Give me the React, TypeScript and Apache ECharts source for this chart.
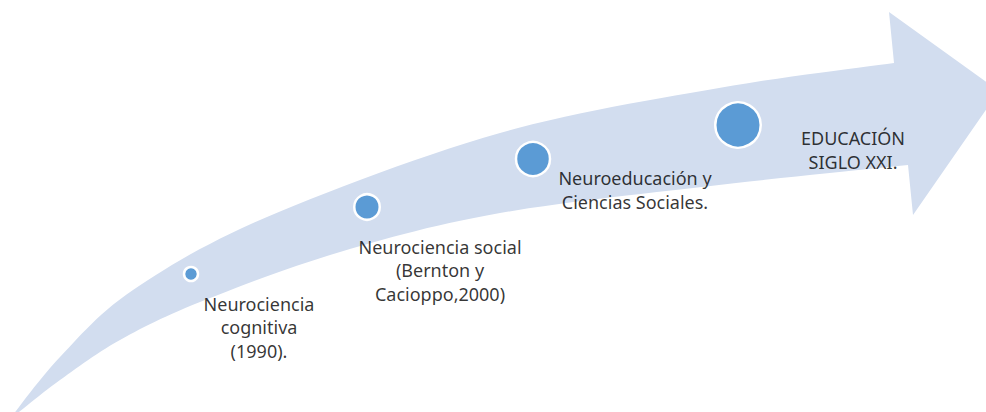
import React, { useEffect, useRef } from "react";
import * as echarts from "echarts";

// Stage texts (timeline milestones)
const stageLabels = [
  "Neurociencia\ncognitiva\n(1990).",
  "Neurociencia social\n(Bernton y\nCacioppo,2000)",
  "Neuroeducación y\nCiencias Sociales.",
  "EDUCACIÓN\nSIGLO XXI.",
];
// Milestone circle positions (diagram coordinates) and sizes
const stageX = [191, 367, 533, 738];
const stageY = [274, 207, 159, 125];
const stageSize = [14, 25.5, 34, 45.5];

// Label anchor points
const labelX = [259, 440, 635, 853];
const labelY = [327, 270, 190, 150];

// Curved arrow outline (diagram coordinates)
const upperEdge = [[9, 420], [60, 357], [133, 290], [267, 217], [500, 133], [719, 88], [894, 63]];
const lowerEdge = [[9, 420], [60, 380], [120, 340], [200, 302], [340, 252], [500, 213], [719, 185], [908, 165]];
const arrowHead = [[889, 12], [999, 91], [913, 215]];

const ARROW_COLOR = "#D2DDEF";
const DOT_COLOR = "#5B9BD5";
const FONT = "Noto Sans";

function catmull(points: number[][], steps = 14): number[][] {
  const out: number[][] = [];
  const n = points.length;
  for (let i = 0; i < n - 1; i++) {
    const p0 = points[Math.max(i - 1, 0)];
    const p1 = points[i];
    const p2 = points[i + 1];
    const p3 = points[Math.min(i + 2, n - 1)];
    for (let s = 0; s < steps; s++) {
      const t = s / steps, t2 = t * t, t3 = t2 * t;
      const f = (a: number, b: number, c: number, d: number) =>
        0.5 * (2 * b + (-a + c) * t + (2 * a - 5 * b + 4 * c - d) * t2 + (-a + 3 * b - 3 * c + d) * t3);
      out.push([f(p0[0], p1[0], p2[0], p3[0]), f(p0[1], p1[1], p2[1], p3[1])]);
    }
  }
  out.push(points[n - 1]);
  return out;
}

export default function App() {
  const ref = useRef<HTMLDivElement>(null);
  useEffect(() => {
    document.body.style.margin = "0";
    if (!ref.current) return;
    const chart = echarts.init(ref.current, undefined, { renderer: "svg" });
    const outline = [
      ...catmull(upperEdge),
      ...arrowHead,
      ...catmull(lowerEdge).reverse(),
    ];
    chart.setOption({
      animation: false,
      backgroundColor: "#ffffff",
      grid: { left: 0, right: 0, top: 0, bottom: 0 },
      xAxis: { type: "value", min: 0, max: 986, show: false },
      yAxis: { type: "value", min: 0, max: 412, inverse: true, show: false },
      series: [
        {
          type: "custom",
          silent: true,
          z: 1,
          data: [[0, 0]],
          renderItem: (_params: any, api: any) => ({
            type: "polygon",
            shape: { points: outline.map((p) => api.coord(p)) },
            style: { fill: ARROW_COLOR },
          }),
        },
        {
          type: "scatter",
          z: 3,
          silent: true,
          data: stageX.map((x, i) => ({ value: [x, stageY[i]], symbolSize: stageSize[i] })),
          itemStyle: { color: DOT_COLOR, borderColor: "#ffffff", borderWidth: 2.5, opacity: 1 },
        },
        {
          type: "scatter",
          z: 4,
          silent: true,
          symbolSize: 0,
          data: labelX.map((x, i) => ({ value: [x, labelY[i]], name: stageLabels[i] })),
          label: {
            show: true,
            position: "inside",
            formatter: (p: any) => p.name,
            color: "#000000",
            fontFamily: FONT,
            fontSize: 18,
            lineHeight: 23.5,
            align: "center",
            verticalAlign: "middle",
          },
        },
      ],
    });
    return () => chart.dispose();
  }, []);
  return <div ref={ref} style={{ width: 986, height: 412 }} />;
}
